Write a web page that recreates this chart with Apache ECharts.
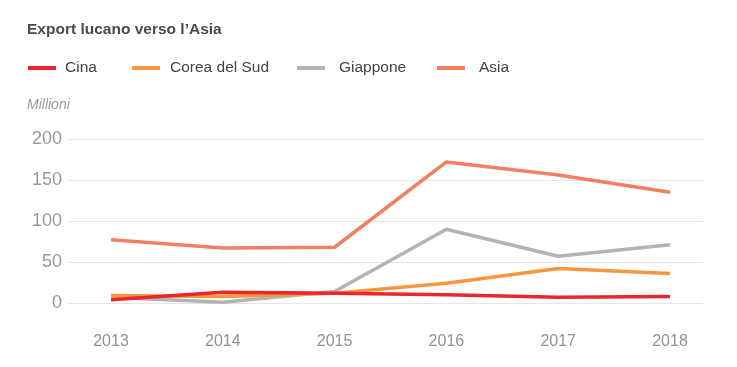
<!DOCTYPE html>
<html>
<head>
<meta charset="utf-8">
<script src="https://cdn.jsdelivr.net/npm/echarts@6/dist/echarts.min.js"></script>
<style>
html,body{margin:0;padding:0;background:#fff;}
#c{width:737px;height:367px;}
</style>
</head>
<body>
<div id="c"></div>
<script>
var years = ['2013','2014','2015','2016','2017','2018'];
var cina = [4, 13, 12, 10, 7, 8];
var corea = [9, 8, 12, 24, 42, 36];
var giappone = [7, 1, 14, 90, 57, 71];
var asia = [77, 67, 68, 172, 156, 135];
var yTicks = [0, 50, 100, 150, 200];

var FONT = '"Liberation Sans", Arial, sans-serif';
var colors = {Cina:'#e8262b', 'Corea del Sud':'#f7963f', Giappone:'#b2b3b5', Asia:'#f27f62'};

function leg(name, left, pad){
  return {
    left: left, top: 60, padding:0, data:[name], icon:'rect', itemWidth:28, itemHeight:4,
    selectedMode:false,
    textStyle:{fontFamily:FONT, fontSize:15.5, color:'#444', padding:[0,0,0,pad]}
  };
}

var chart = echarts.init(document.getElementById('c'), null, {renderer:'canvas'});
chart.setOption({
  animation:false,
  title:{text:'Export lucano verso l\u2019Asia', left:22, top:17,
    textStyle:{fontFamily:FONT, fontWeight:'bold', fontSize:15.5, color:'#4a4a4a'}},
  legend:[leg('Cina',28,4), leg('Corea del Sud',132,5), leg('Giappone',297,9), leg('Asia',437,9)],
  graphic:[{type:'text', left:27, top:98, style:{text:'Millioni', fontFamily:FONT, fontStyle:'italic', fontSize:14, fill:'#999'}}],
  grid:[
    {left:68, right:34, top:139, bottom:64},
    {left:111, right:67, top:139, bottom:64}
  ],
  xAxis:[
    {gridIndex:0, type:'value', show:false, min:0, max:1},
    {gridIndex:1, type:'category', data:years, boundaryGap:false,
      axisLine:{show:false}, axisTick:{show:false},
      axisLabel:{margin:31, fontFamily:FONT, fontSize:16, color:'#929292'}}
  ],
  yAxis:[
    {gridIndex:0, type:'value', min:yTicks[0], max:yTicks[yTicks.length-1], interval:50,
      axisLine:{show:false}, axisTick:{show:false},
      splitLine:{lineStyle:{color:'#e5e5e5', width:1}},
      axisLabel:{margin:6, fontFamily:FONT, fontSize:18, color:'#999'}},
    {gridIndex:1, type:'value', min:0, max:200, show:false, splitLine:{show:false}}
  ],
  series:[
    {name:'Asia', data:asia},
    {name:'Giappone', data:giappone},
    {name:'Corea del Sud', data:corea},
    {name:'Cina', data:cina}
  ].map(function(s){
    return {name:s.name, type:'line', data:s.data, xAxisIndex:1, yAxisIndex:1,
      showSymbol:false, symbol:'none', color:colors[s.name],
      lineStyle:{width:3.5, color:colors[s.name]}};
  })
});
</script>
</body>
</html>
